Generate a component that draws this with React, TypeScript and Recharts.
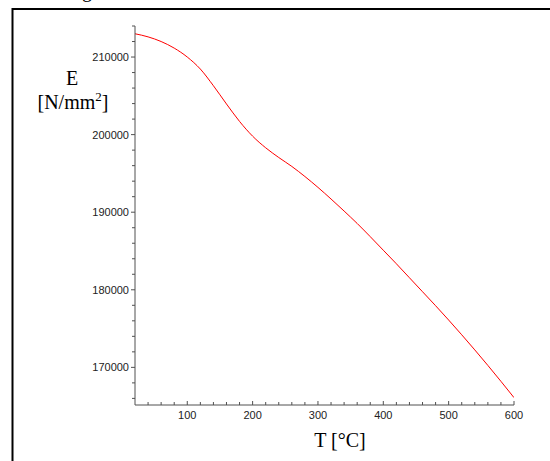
import { LineChart, Line, XAxis, YAxis } from "recharts";

// temperature in °C
const temps = [
  20, 40, 60, 80, 100, 120, 140, 160, 180, 200, 220, 240, 260, 280, 300,
  320, 340, 360, 380, 400, 420, 440, 460, 480, 500, 520, 540, 560, 580, 600,
];
// Young's modulus E in N/mm²
const moduli = [
  213000, 212600, 212000, 211150, 210000, 208450, 206300, 203950, 201700,
  199800, 198300, 197050, 195900, 194600, 193200, 191700, 190150, 188550,
  186850, 185100, 183350, 181550, 179750, 177950, 176100, 174200, 172250,
  170250, 168200, 166100,
];
const xTicks = [
  40, 60, 80, 100, 120, 140, 160, 180, 200, 220, 240, 260, 280, 300, 320,
  340, 360, 380, 400, 420, 440, 460, 480, 500, 520, 540, 560, 580, 600,
];
const yTicks = [
  166000, 168000, 170000, 172000, 174000, 176000, 178000, 180000, 182000,
  184000, 186000, 188000, 190000, 192000, 194000, 196000, 198000, 200000,
  202000, 204000, 206000, 208000, 210000, 212000, 214000,
];

const data = temps.map((t, i) => ({ t, e: moduli[i] }));

const AXIS = "#505050";
const TICK_FONT = "'Liberation Sans', Arial, sans-serif";

const XTick = (props: any) => {
  const { x, y, payload } = props;
  const major = payload.value % 100 === 0;
  return (
    <g>
      <line x1={x} x2={x} y1={y} y2={y - (major ? 4 : 3)} stroke={AXIS} />
      {major && (
        <text
          x={x}
          y={y + 14}
          textAnchor="middle"
          fontSize={11}
          fontFamily={TICK_FONT}
          fill="#222"
        >
          {payload.value}
        </text>
      )}
    </g>
  );
};

const YTick = (props: any) => {
  const { x, y, payload } = props;
  const major = payload.value % 10000 === 0;
  return (
    <g>
      <line x1={x} x2={x - (major ? 4 : 3)} y1={y} y2={y} stroke={AXIS} />
      {major && (
        <text
          x={x - 6}
          y={y + 4}
          textAnchor="end"
          fontSize={11}
          fontFamily={TICK_FONT}
          fill="#222"
        >
          {payload.value}
        </text>
      )}
    </g>
  );
};

export default function App() {
  return (
    <div
      style={{
        position: "absolute",
        left: 0,
        top: 0,
        width: 550,
        height: 461,
        background: "#fff",
        overflow: "hidden",
      }}
    >
      <LineChart
        width={550}
        height={461}
        data={data}
        margin={{ top: 26, right: 36, bottom: 26, left: 0 }}
      >
        <XAxis
          dataKey="t"
          type="number"
          domain={[20, 600]}
          ticks={xTicks}
          interval={0}
          height={30}
          tickSize={0}
          tickMargin={0}
          tickLine={false}
          stroke={AXIS}
          tick={<XTick />}
          allowDataOverflow
        />
        <YAxis
          dataKey="e"
          type="number"
          domain={[165150, 214000]}
          ticks={yTicks}
          interval={0}
          width={135}
          tickSize={0}
          tickMargin={0}
          tickLine={false}
          stroke={AXIS}
          tick={<YTick />}
          allowDataOverflow
        />
        <Line
          type="monotone"
          dataKey="e"
          stroke="#ff0000"
          strokeWidth={1}
          dot={false}
          isAnimationActive={false}
        />
      </LineChart>
      <svg
        width={550}
        height={461}
        style={{ position: "absolute", left: 0, top: 0, pointerEvents: "none" }}
      >
        <line x1={12.5} x2={550} y1={9} y2={9} stroke="#000" strokeWidth={2} />
        <line x1={12.5} x2={12.5} y1={8} y2={461} stroke="#000" strokeWidth={2} />
        <text x={82} y={-3} fontSize={20} fontFamily="'Liberation Serif', serif">
          g
        </text>
        <g fontFamily="'Liberation Serif', 'Times New Roman', serif" fontSize={20} fill="#000">
          <text x={72} y={85} textAnchor="middle">
            E
          </text>
          <text x={73} y={109} textAnchor="middle">
            [N/mm
            <tspan dy={-8} fontSize={13}>
              2
            </tspan>
            <tspan dy={8}>]</tspan>
          </text>
          <text x={340} y={447} textAnchor="middle">
            T [°C]
          </text>
        </g>
      </svg>
    </div>
  );
}
